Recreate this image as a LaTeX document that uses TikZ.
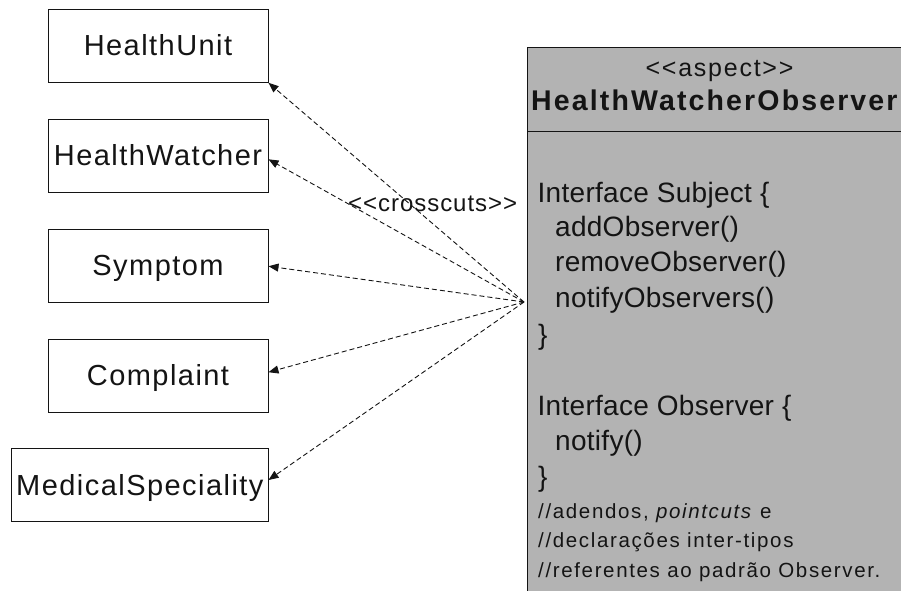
\documentclass[tikz,border=0pt]{standalone}
\usepackage{fontspec}
\setmainfont{Liberation Sans}
\newfontfamily\clsfont[LetterSpace=5]{Liberation Sans}
\newfontfamily\bodyfont[LetterSpace=1]{Liberation Sans}
\newfontfamily\cmtfont[LetterSpace=8]{Liberation Sans}
\newfontfamily\aspfont[LetterSpace=7]{Liberation Sans}
\newfontfamily\ccfont[LetterSpace=4]{Liberation Sans}
\newfontfamily\titlefont[LetterSpace=7.5]{Liberation Sans}
\usetikzlibrary{arrows.meta,calc}
\definecolor{aspgray}{RGB}{179,179,179}
\definecolor{ink}{RGB}{20,20,20}
\begin{document}
\begin{tikzpicture}[x=1pt,y=-1pt,
  cls/.style={draw=ink, line width=1pt, fill=white, minimum width=220pt,
    minimum height=73pt, inner sep=0pt, text height=20pt, text depth=0pt,
    font=\clsfont\fontsize{29}{34}\selectfont, text=ink},
  xcut/.style={draw=ink, line width=0.9pt, dash pattern=on 5pt off 3pt,
    -{Triangle[length=10pt,width=8pt]}},
  body/.style={anchor=base west, inner sep=0pt,
    font=\bodyfont\fontsize{28}{33}\selectfont, text=ink},
  cmt/.style={anchor=base west, inner sep=0pt,
    font=\cmtfont\fontsize{20.5}{25}\selectfont, text=ink}]
\useasboundingbox (0,0) rectangle (901,590);
\clip (0,0) rectangle (901,590);

% aspect box
\node[draw=ink, fill=aspgray, line width=1pt, minimum width=400pt,
  minimum height=600pt, anchor=north west, inner sep=0pt] (aspect) at (527,46.7) {};
\coordinate (sepy) at (0,131);
\draw[ink, line width=1pt] (aspect.west |- sepy) -- (aspect.east |- sepy);

\node[anchor=base, inner sep=0pt, font=\aspfont\fontsize{25}{29}\selectfont, text=ink]
  (stereo) at (719.5,76) {<{}<aspect>{}>};
\node[anchor=base west, inner sep=0pt, font=\titlefont\bfseries\fontsize{28.5}{33}\selectfont, text=ink]
  (title) at (531,110) {HealthWatcherObserver};

\node[body] (l1) at (537.5,202) {Interface Subject \{};
\node[body] (l2) at (555,236.5) {addObserver()};
\node[body] (l3) at (555,271.5) {removeObserver()};
\node[body] (l4) at (555,307.5) {notifyObservers()};
\node[body] (l5) at (538,344.5) {\}};
\node[body] (l6) at (537.5,415) {Interface Observer \{};
\node[body] (l7) at (555,450) {notify()};
\node[body] (l8) at (538,486) {\}};
\node[cmt] (c1) at (538,518) {//adendos, \textit{pointcuts} e};
\node[cmt] (c2) at (538,547.5) {//declarações inter-tipos};
\node[cmt] (c3) at (538,577) {//referentes ao padrão Observer.};

% classes
\node[cls] (hu) at (158,45.8) {HealthUnit};
\node[cls] (hw) at (158,155.8) {HealthWatcher};
\node[cls] (sy) at (158,265.7) {Symptom};
\node[cls] (co) at (158,375.7) {Complaint};
\node[cls, minimum width=256.3pt] (ms) at (139.85,485.3) {MedicalSpeciality};

% connectors
\coordinate (src) at (524,302);
\draw[xcut] (src) -- (hu.south east);
\draw[xcut] (src) -- ($(hw.east)+(0,3.5)$);
\draw[xcut] (src) -- ($(sy.east)+(0,0.5)$);
\draw[xcut] (src) -- ($(co.east)+(0,-3.5)$);
\draw[xcut] (src) -- ($(ms.east)+(0,-5.3)$);

\node[anchor=base west, inner sep=0pt, font=\ccfont\fontsize{24}{28}\selectfont, text=ink]
  (xlbl) at (348,211.7) {<{}<crosscuts>{}>};
\end{tikzpicture}
\end{document}
